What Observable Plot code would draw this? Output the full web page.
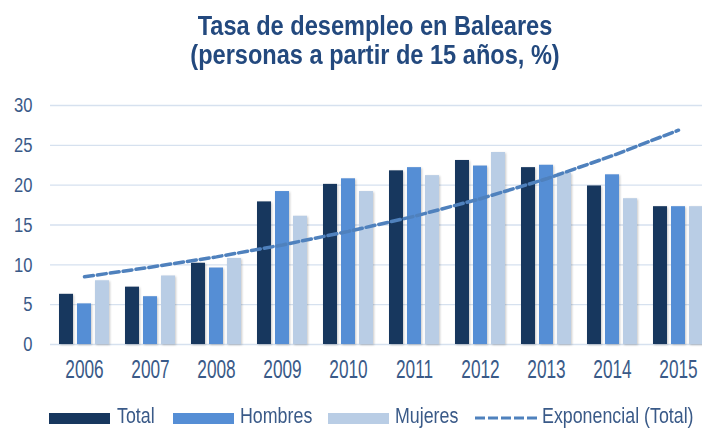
<!DOCTYPE html>
<html>
<head>
<meta charset="utf-8">
<script src="https://cdn.jsdelivr.net/npm/d3@7"></script>
<script src="https://cdn.jsdelivr.net/npm/@observablehq/plot@0.6"></script>
<style>
  body { margin: 0; background: #fff; width: 702px; height: 428px; overflow: hidden; position: relative;
         font-family: "Liberation Sans", Arial, sans-serif; }
  #title { position: absolute; left: 48px; right: 0; top: 12.2px; text-align: center; font-weight: bold;
           font-size: 27px; line-height: 29px; color: #23497e; transform: scaleX(0.873); transform-origin: 50% 0; }
  #chart { position: absolute; left: 0; top: 80px; }
  #legend { position: absolute; left: 0; top: 0; width: 702px; height: 428px; font-size: 22px; line-height: 22px; color: #3a5a88; }
  #legend .sw { position: absolute; top: 413px; width: 61px; height: 11px; }
  #legend .lab { position: absolute; top: 405.4px; white-space: nowrap; transform: scaleX(0.81); transform-origin: 0 0; }
  #legend svg { position: absolute; top: 413px; }
</style>
</head>
<body>
<div id="title">Tasa de desempleo en Baleares<br>(personas a partir de 15 años, %)</div>
<div id="chart"></div>
<div id="legend"></div>
<script>
const years = ["2006", "2007", "2008", "2009", "2010", "2011", "2012", "2013", "2014", "2015"];
const total = [6.3, 7.2, 10.2, 17.9, 20.1, 21.8, 23.1, 22.2, 19.9, 17.3];
const hombres = [5.1, 6.0, 9.6, 19.2, 20.8, 22.2, 22.4, 22.5, 21.3, 17.3];
const mujeres = [8.0, 8.6, 10.8, 16.1, 19.2, 21.2, 24.1, 21.5, 18.3, 17.3];
const exponencialTotal = [8.5, 9.7, 11.0, 12.5, 14.2, 16.1, 18.3, 20.8, 23.7, 26.9];
const yTicks = [0, 5, 10, 15, 20, 25, 30];
const seriesNames = ["Total", "Hombres", "Mujeres", "Exponencial (Total)"];
const colors = ["#17375e", "#558ed5", "#b9cde5", "#4f81bd"];

const rows = years.map((year, i) => ({
  year, total: total[i], hombres: hombres[i], mujeres: mujeres[i], exp: exponencialTotal[i]
}));

const textColor = "#3a5a88";
const chart = Plot.plot({
  width: 702,
  height: 320,
  marginTop: 25,
  marginBottom: 56,
  marginLeft: 50,
  marginRight: -11,
  x: { domain: years, paddingInner: 0.24, paddingOuter: 0.12 },
  y: { domain: [0, 30] },
  style: {
    fontFamily: '"Liberation Sans", Arial, sans-serif',
    fontSize: "22px",
    color: textColor,
    background: "transparent",
    overflow: "hidden"
  },
  marks: [
    Plot.gridY(yTicks, { stroke: "#d6e1ef", strokeOpacity: 1, strokeWidth: 1.3 }),
    Plot.barY(rows, { x: "year", y: "total", fill: colors[0], insetRight: 36 }),
    Plot.barY(rows, { x: "year", y: "hombres", fill: colors[1], insetLeft: 18, insetRight: 18 }),
    Plot.barY(rows, { x: "year", y: "mujeres", fill: colors[2], insetLeft: 36 }),
    Plot.line(rows, { x: "year", y: "exp", stroke: colors[3], strokeWidth: 3.5, strokeDasharray: "9,4" }),
    Plot.axisX({ tickSize: 0, tickPadding: 16, fill: textColor, label: null, fontSize: 25 }),
    Plot.axisY(yTicks, { tickSize: 0, tickPadding: 18, fill: textColor, label: null, fontSize: 21 })
  ]
});
d3.select(chart).selectAll('g[aria-label="bar"]').style("filter", "drop-shadow(1.5px 1px 1px rgba(0,0,0,0.22))");
// narrow the axis labels (Arial Narrow look)
function narrow(sel, k) {
  d3.select(chart).selectAll(sel).each(function () {
    const t = this.getAttribute("transform") || "";
    this.setAttribute("transform", t + ` scale(${k},1)`);
  });
}
narrow('g[aria-label="x-axis tick label"] text', 0.69);
narrow('g[aria-label="y-axis tick label"] text', 0.79);
document.getElementById("chart").appendChild(chart);

const swatchX = [49, 173, 328, 475];
const labelX = [117, 240, 395, 542];
const legend = d3.select("#legend");
seriesNames.forEach((name, i) => {
  if (i < 3) {
    legend.append("div").attr("class", "sw").style("left", swatchX[i] + "px").style("background", colors[i]);
  } else {
    const s = legend.append("svg").attr("width", 62).attr("height", 11).style("left", swatchX[i] + "px");
    s.append("line").attr("x1", 0).attr("x2", 62).attr("y1", 5).attr("y2", 5)
      .attr("stroke", colors[3]).attr("stroke-width", 3).attr("stroke-dasharray", "10,3");
  }
  legend.append("div").attr("class", "lab").style("left", labelX[i] + "px").text(name);
});
</script>
</body>
</html>
